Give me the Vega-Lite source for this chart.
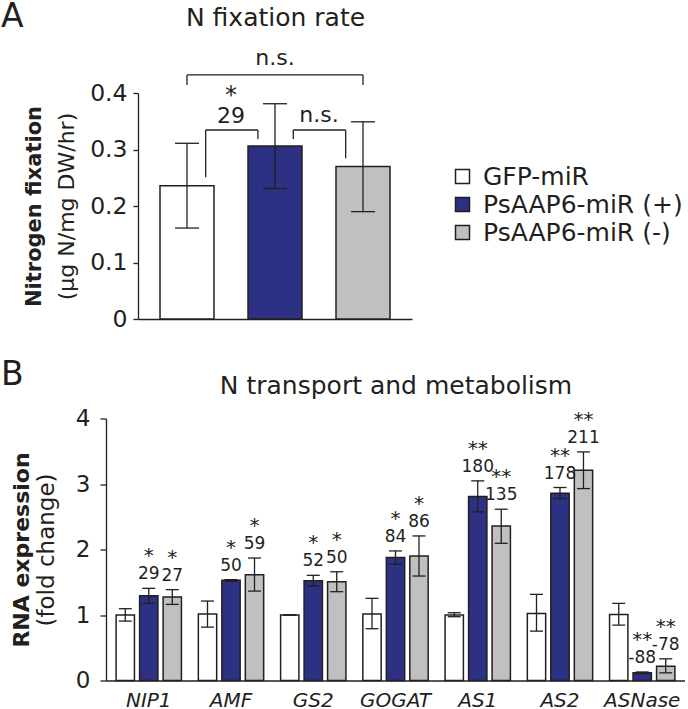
{
  "$schema": "https://vega.github.io/schema/vega-lite/v6.json",
  "padding": {"left": 0, "top": 0, "right": 0, "bottom": 0},
  "config": {
    "font": "DejaVu Sans",
    "view": {"stroke": null},
    "axis": {"grid": false, "labelFont": "DejaVu Sans", "titleFont": "DejaVu Sans", "domainColor": "#231F20", "tickColor": "#231F20", "labelColor": "#231F20", "titleColor": "#231F20", "domainWidth": 1.3, "tickWidth": 1.3},
    "text": {"font": "DejaVu Sans", "color": "#231F20"}
  },
  "datasets": {
    "barsA": [
      {"pos": 1, "group": "GFP-miR", "mean": 0.236, "lo": 0.161, "hi": 0.311},
      {"pos": 2, "group": "PsAAP6-miR (+)", "mean": 0.306, "lo": 0.231, "hi": 0.381},
      {"pos": 3, "group": "PsAAP6-miR (-)", "mean": 0.270, "lo": 0.190, "hi": 0.349}
    ],
    "bracketsA": [
      {"pos": 1.212, "pos2": 1.212, "y": 0.251, "y2": 0.3345},
      {"pos": 1.212, "pos2": 1.806, "y": 0.3345, "y2": 0.3345},
      {"pos": 1.806, "pos2": 1.806, "y": 0.3186, "y2": 0.3345},
      {"pos": 2.208, "pos2": 2.208, "y": 0.3186, "y2": 0.3345},
      {"pos": 2.208, "pos2": 2.803, "y": 0.3345, "y2": 0.3345},
      {"pos": 2.803, "pos2": 2.803, "y": 0.2844, "y2": 0.3345},
      {"pos": 1.0, "pos2": 1.0, "y": 0.414, "y2": 0.432},
      {"pos": 1.0, "pos2": 3.0, "y": 0.432, "y2": 0.432},
      {"pos": 3.0, "pos2": 3.0, "y": 0.414, "y2": 0.432}
    ],
    "textA": [
      {"pos": 1.5, "y": 0.3585, "label": "29"},
      {"pos": 2.5, "y": 0.3605, "label": "n.s."},
      {"pos": 2.0, "y": 0.4614, "label": "n.s."}
    ],
    "starA": [
      {"pos": 1.5, "y": 0.3947, "label": "*"}
    ],
    "barsB": [
      {"gene": "NIP1", "group": "GFP-miR", "mean": 1.0, "lo": 0.907, "hi": 1.096, "star": "", "pct": ""},
      {"gene": "NIP1", "group": "PsAAP6-miR (+)", "mean": 1.295, "lo": 1.177, "hi": 1.407, "star": "*", "pct": "29"},
      {"gene": "NIP1", "group": "PsAAP6-miR (-)", "mean": 1.274, "lo": 1.162, "hi": 1.387, "star": "*", "pct": "27"},
      {"gene": "AMF", "group": "GFP-miR", "mean": 1.014, "lo": 0.815, "hi": 1.213, "star": "", "pct": ""},
      {"gene": "AMF", "group": "PsAAP6-miR (+)", "mean": 1.529, "lo": 1.515, "hi": 1.54, "star": "*", "pct": "50"},
      {"gene": "AMF", "group": "PsAAP6-miR (-)", "mean": 1.615, "lo": 1.365, "hi": 1.87, "star": "*", "pct": "59"},
      {"gene": "GS2", "group": "GFP-miR", "mean": 1.0, "lo": 1.0, "hi": 1.0, "star": "", "pct": ""},
      {"gene": "GS2", "group": "PsAAP6-miR (+)", "mean": 1.524, "lo": 1.442, "hi": 1.606, "star": "*", "pct": "52"},
      {"gene": "GS2", "group": "PsAAP6-miR (-)", "mean": 1.509, "lo": 1.356, "hi": 1.66, "star": "*", "pct": "50"},
      {"gene": "GOGAT", "group": "GFP-miR", "mean": 1.014, "lo": 0.79, "hi": 1.254, "star": "", "pct": ""},
      {"gene": "GOGAT", "group": "PsAAP6-miR (+)", "mean": 1.876, "lo": 1.774, "hi": 1.978, "star": "*", "pct": "84"},
      {"gene": "GOGAT", "group": "PsAAP6-miR (-)", "mean": 1.9, "lo": 1.595, "hi": 2.207, "star": "*", "pct": "86"},
      {"gene": "AS1", "group": "GFP-miR", "mean": 1.0, "lo": 0.974, "hi": 1.035, "star": "", "pct": ""},
      {"gene": "AS1", "group": "PsAAP6-miR (+)", "mean": 2.809, "lo": 2.574, "hi": 3.048, "star": "**", "pct": "180"},
      {"gene": "AS1", "group": "PsAAP6-miR (-)", "mean": 2.36, "lo": 2.095, "hi": 2.615, "star": "**", "pct": "135"},
      {"gene": "AS2", "group": "GFP-miR", "mean": 1.024, "lo": 0.754, "hi": 1.315, "star": "", "pct": ""},
      {"gene": "AS2", "group": "PsAAP6-miR (+)", "mean": 2.86, "lo": 2.778, "hi": 2.946, "star": "**", "pct": "178"},
      {"gene": "AS2", "group": "PsAAP6-miR (-)", "mean": 3.211, "lo": 2.93, "hi": 3.49, "star": "**", "pct": "211"},
      {"gene": "ASNase", "group": "GFP-miR", "mean": 1.009, "lo": 0.846, "hi": 1.177, "star": "", "pct": ""},
      {"gene": "ASNase", "group": "PsAAP6-miR (+)", "mean": 0.117, "lo": 0.105, "hi": 0.13, "star": "**", "pct": "-88"},
      {"gene": "ASNase", "group": "PsAAP6-miR (-)", "mean": 0.219, "lo": 0.117, "hi": 0.331, "star": "**", "pct": "-78"}
    ]
  },
  "resolve": {"scale": {"fill": "independent"}, "legend": {"fill": "independent"}},
  "spacing": 26.5,
  "vconcat": [
    {
      "width": 306,
      "height": 226,
      "encoding": {
        "x": {"field": "pos", "type": "quantitative", "scale": {"domain": [0.5, 3.5], "range": [32, 306], "nice": false, "zero": false}, "axis": null}
      },
      "resolve": {"axis": {"x": "independent", "y": "independent"}},
      "layer": [
        {
          "data": {"name": "barsA"},
          "mark": {"type": "bar", "orient": "vertical", "width": 54, "stroke": "#231F20", "strokeWidth": 1.5},
          "encoding": {
            "x": {"field": "pos", "type": "quantitative", "axis": {"orient": "bottom", "title": null, "labels": false, "ticks": false, "domain": true}},
            "y": {"field": "mean", "type": "quantitative", "scale": {"domain": [0, 0.4], "nice": false}, "axis": {"orient": "left", "offset": -32, "title": "(µg N/mg DW/hr)", "titleFontWeight": "normal", "titleFontSize": 22, "labelFontSize": 23.5, "values": [0, 0.1, 0.2, 0.3, 0.4], "format": ".1~f", "tickSize": 5, "labelPadding": 6, "titlePadding": 11}},
            "fill": {"field": "group", "type": "nominal", "scale": {"domain": ["GFP-miR", "PsAAP6-miR (+)", "PsAAP6-miR (-)"], "range": ["#FFFFFF", "#2C3184", "#C0C0C0"]}, "legend": {"orient": "none", "legendX": 344, "legendY": 71, "title": null, "symbolType": "square", "symbolSize": 196, "symbolStrokeColor": "#231F20", "symbolStrokeWidth": 1.5, "symbolOpacity": 1, "labelFontSize": 25, "labelFont": "DejaVu Sans", "labelColor": "#231F20", "labelOffset": 8, "rowPadding": 2, "padding": 0, "labelLimit": 400}}
          }
        },
        {
          "data": {"name": "barsA"},
          "mark": {"type": "rule", "stroke": "#231F20", "strokeWidth": 1.3},
          "encoding": {
            "x": {"field": "pos", "type": "quantitative", "axis": {"orient": "top", "title": "N fixation rate", "titleFontWeight": "normal", "titleFontSize": 25, "labels": false, "ticks": false, "domain": false, "titlePadding": 62.3}},
            "y": {"field": "lo", "type": "quantitative", "axis": {"orient": "left", "offset": -32, "title": "Nitrogen fixation", "titleFontWeight": "bold", "titleFontSize": 21, "labels": false, "ticks": false, "domain": false, "titlePadding": 93.5}},
            "y2": {"field": "hi"}
          }
        },
        {
          "data": {"name": "barsA"},
          "mark": {"type": "tick", "orient": "horizontal", "size": 24, "thickness": 1.3, "color": "#231F20", "opacity": 1},
          "encoding": {"y": {"field": "lo", "type": "quantitative", "axis": {"orient": "left", "offset": 0, "title": "A", "titleAngle": 0, "titleAlign": "left", "titleBaseline": "alphabetic", "titleX": -105.5, "titleY": -67, "titleFontSize": 33, "titleFontWeight": "normal", "labels": false, "ticks": false, "domain": false}}}
        },
        {
          "data": {"name": "barsA"},
          "mark": {"type": "tick", "orient": "horizontal", "size": 24, "thickness": 1.3, "color": "#231F20", "opacity": 1},
          "encoding": {"y": {"field": "hi", "type": "quantitative", "axis": null}}
        },
        {
          "data": {"name": "bracketsA"},
          "mark": {"type": "rule", "stroke": "#231F20", "strokeWidth": 1.3},
          "encoding": {
            "x2": {"field": "pos2"},
            "y": {"field": "y", "type": "quantitative", "axis": null},
            "y2": {"field": "y2"}
          }
        },
        {
          "data": {"name": "textA"},
          "mark": {"type": "text", "fontSize": 22, "baseline": "middle", "align": "center"},
          "encoding": {
            "y": {"field": "y", "type": "quantitative", "axis": null},
            "text": {"field": "label"}
          }
        },
        {
          "data": {"name": "starA"},
          "mark": {"type": "text", "fontSize": 24, "baseline": "middle", "align": "center"},
          "encoding": {
            "y": {"field": "y", "type": "quantitative", "axis": null},
            "text": {"field": "label"}
          }
        }
      ]
    },
    {
      "width": 579,
      "height": 262,
      "data": {"name": "barsB"},
      "encoding": {
        "x": {"field": "gene", "type": "nominal", "sort": ["NIP1", "AMF", "GS2", "GOGAT", "AS1", "AS2", "ASNase"], "scale": {"paddingInner": 0, "paddingOuter": 0.02}, "axis": null},
        "xOffset": {"field": "group", "type": "nominal", "sort": ["GFP-miR", "PsAAP6-miR (+)", "PsAAP6-miR (-)"], "scale": {"paddingInner": 0.22, "paddingOuter": 0.36}}
      },
      "resolve": {"axis": {"x": "independent", "y": "independent"}},
      "layer": [
        {
          "mark": {"type": "bar", "stroke": "#231F20", "strokeWidth": 1.5},
          "encoding": {
            "x": {"field": "gene", "type": "nominal", "sort": ["NIP1", "AMF", "GS2", "GOGAT", "AS1", "AS2", "ASNase"], "axis": {"orient": "bottom", "title": null, "ticks": false, "tickSize": 0, "labelFontSize": 20, "labelFontStyle": "italic", "labelPadding": 10, "labelAngle": 0}},
            "y": {"field": "mean", "type": "quantitative", "scale": {"domain": [0, 4], "nice": false}, "axis": {"orient": "left", "title": "(fold change)", "titleFontWeight": "normal", "titleFontSize": 23, "labelFontSize": 23, "values": [0, 1, 2, 3, 4], "tickSize": 6, "labelPadding": 10, "titlePadding": 17}},
            "fill": {"field": "group", "type": "nominal", "scale": {"domain": ["GFP-miR", "PsAAP6-miR (+)", "PsAAP6-miR (-)"], "range": ["#FFFFFF", "#2C3184", "#C0C0C0"]}, "legend": null}
          }
        },
        {
          "mark": {"type": "rule", "stroke": "#231F20", "strokeWidth": 1.3},
          "encoding": {
            "x": {"field": "gene", "type": "nominal", "sort": ["NIP1", "AMF", "GS2", "GOGAT", "AS1", "AS2", "ASNase"], "axis": {"orient": "top", "title": "N transport and metabolism", "titleFontWeight": "normal", "titleFontSize": 25, "labels": false, "ticks": false, "domain": false, "titlePadding": 20}},
            "y": {"field": "lo", "type": "quantitative", "axis": {"orient": "left", "title": "RNA expression", "titleFontWeight": "bold", "titleFontSize": 22, "labels": false, "ticks": false, "domain": false, "titlePadding": 73}},
            "y2": {"field": "hi"}
          }
        },
        {
          "mark": {"type": "tick", "orient": "horizontal", "size": 13, "thickness": 1.3, "color": "#231F20", "opacity": 1},
          "encoding": {"y": {"field": "lo", "type": "quantitative", "axis": {"orient": "left", "offset": 0, "title": "B", "titleAngle": 0, "titleAlign": "left", "titleBaseline": "alphabetic", "titleX": -105.5, "titleY": -34.5, "titleFontSize": 33, "titleFontWeight": "normal", "labels": false, "ticks": false, "domain": false}}}
        },
        {
          "mark": {"type": "tick", "orient": "horizontal", "size": 13, "thickness": 1.3, "color": "#231F20", "opacity": 1},
          "encoding": {"y": {"field": "hi", "type": "quantitative", "axis": null}}
        },
        {
          "mark": {"type": "text", "fontSize": 17, "baseline": "middle", "align": "center", "dy": -14},
          "encoding": {
            "y": {"field": "hi", "type": "quantitative", "axis": null},
            "text": {"field": "pct"}
          }
        },
        {
          "mark": {"type": "text", "fontSize": 20, "baseline": "middle", "align": "center", "dy": -32},
          "encoding": {
            "y": {"field": "hi", "type": "quantitative", "axis": null},
            "text": {"field": "star"}
          }
        }
      ]
    }
  ]
}
